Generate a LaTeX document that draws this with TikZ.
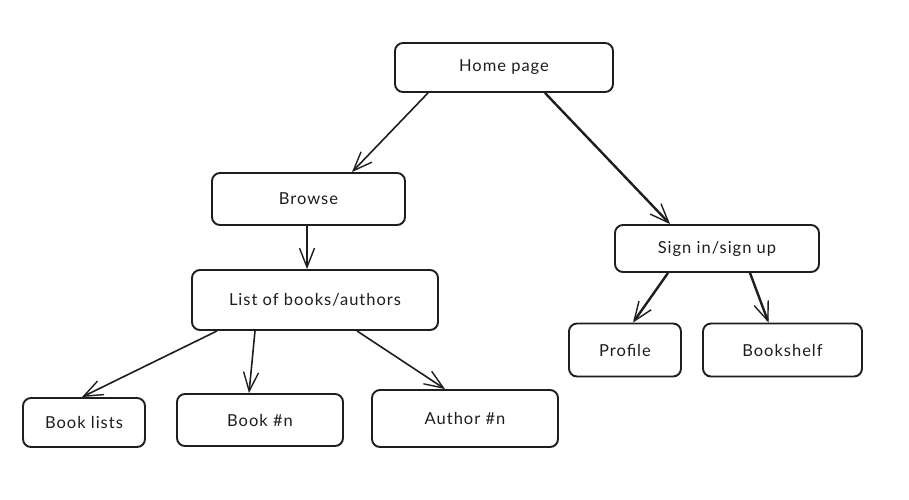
\documentclass[tikz,border=0pt]{standalone}
\usepackage{fontspec}
\setmainfont{Lato}[LetterSpace=6]
\usetikzlibrary{arrows.meta}
\definecolor{ink}{HTML}{1E1E1E}
\begin{document}
\begin{tikzpicture}[x=1pt,y=-1pt,
  box/.style={draw=ink,line width=1.9pt,rounded corners=8pt,fill=white,
    text=ink,font=\fontsize{16.5}{18}\selectfont,inner sep=0pt},
  link/.style={draw=ink,line width=1.6pt,
    -{Straight Barb[length=19pt,width=15pt,line width=1.4pt]}},
  boldlink/.style={link,line width=2.4pt}]
\useasboundingbox[fill=white] (0,0) rectangle (909,499);
\node[box,minimum width=218pt,minimum height=49pt] (home) at (504,67.5) {Home page};
\node[box,minimum width=193pt,minimum height=52pt] (browse) at (308.5,199) {Browse};
\node[box,minimum width=246pt,minimum height=60pt] (list) at (315,300) {List of books/authors};
\node[box,minimum width=122pt,minimum height=49pt] (booklists) at (84,422.5) {Book lists};
\node[box,minimum width=166pt,minimum height=52pt] (book) at (260,420) {Book \#n};
\node[box,minimum width=186pt,minimum height=57pt] (author) at (465,418.5) {Author \#n};
\node[box,minimum width=204pt,minimum height=47pt] (sign) at (717,248.5) {Sign in/sign up};
\node[box,minimum width=112pt,minimum height=53pt] (profile) at (625,350) {Profile};
\node[box,minimum width=159pt,minimum height=53pt] (shelf) at (782.5,350) {Bookshelf};
\draw[link] ([xshift=-76pt]home.south) -- ([xshift=43.5pt]browse.north);
\draw[boldlink] ([xshift=41pt]home.south) -- ([xshift=-47pt]sign.north);
\draw[link] ([xshift=-1.5pt]browse.south) -- ([xshift=-8pt]list.north);
\draw[link] ([xshift=-98pt]list.south) -- ([xshift=-2pt]booklists.north);
\draw[link] ([xshift=-60pt]list.south) -- ([xshift=-11pt]book.north);
\draw[link] ([xshift=42pt]list.south) -- ([xshift=-20pt]author.north);
\draw[boldlink] ([xshift=-49pt]sign.south) -- ([xshift=8pt]profile.north);
\draw[boldlink] ([xshift=33pt]sign.south) -- ([xshift=-14pt]shelf.north);
\end{tikzpicture}
\end{document}
